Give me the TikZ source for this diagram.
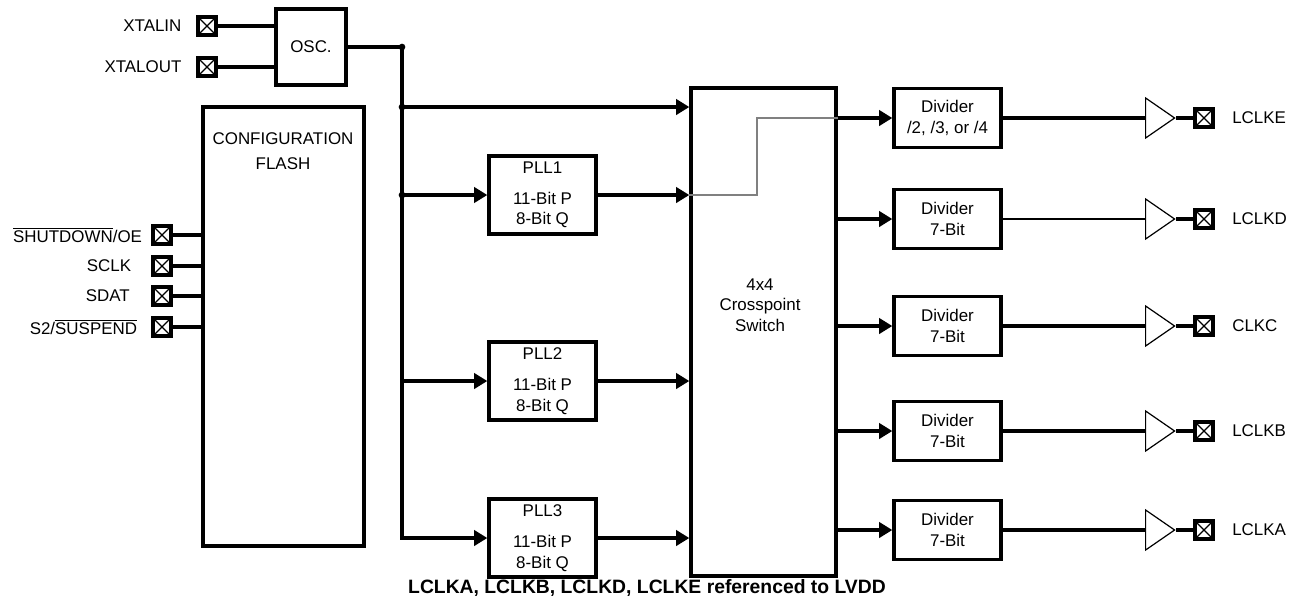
\documentclass[tikz,border=0pt]{standalone}
\usepackage{fontspec}
\setmainfont{Liberation Sans}
\usetikzlibrary{arrows.meta,positioning,shapes.geometric}

\newcommand{\ovl}[1]{$\overline{\mbox{#1}}$}

\begin{document}
\begin{tikzpicture}[x=0.75pt, y=-0.75pt,
    font=\fontsize{12.7}{15.3}\selectfont,
    wire/.style={line width=2.5pt},
    arr/.style={wire, -{Triangle[length=10pt,width=11.5pt]}},
    block/.style={draw, line width=2.5pt, inner sep=0pt, align=center},
    pll/.style={block, minimum width=80.25pt, minimum height=58.5pt},
    divbox/.style={block, minimum width=80.25pt, minimum height=44.25pt},
    pad/.style={draw, line width=2.5pt, minimum size=13.5pt, inner sep=0pt,
        path picture={\draw[line width=1pt]
            (path picture bounding box.north west) -- (path picture bounding box.south east)
            (path picture bounding box.south west) -- (path picture bounding box.north east);}},
    buf/.style={draw, line width=0.9pt, isosceles triangle, isosceles triangle stretches,
        minimum height=21.75pt, minimum width=30pt, inner sep=0pt, anchor=west},
    dot/.style={circle, fill, inner sep=0pt, minimum size=5pt},
    txt/.style={inner sep=1pt}]
    \useasboundingbox (0,0) rectangle (1298,604);

    % oscillator and crystal pins
    \node[block, minimum width=52.5pt, minimum height=57pt] (osc) at (311,47) {OSC.};
    \node[pad] (xin) at (207,26) {};
    \node[pad] (xout) at (207,67) {};
    \node[txt, left=10pt of xin] {XTALIN};
    \node[txt, left=10pt of xout] {XTALOUT};
    \draw[wire] (xin) -- (xin -| osc.west);
    \draw[wire] (xout) -- (xout -| osc.west);

    % configuration flash and control pins
    \node[block, minimum width=120.75pt, minimum height=329.25pt] (cfg) at (283.5,326.5) {};
    \node[txt, align=center] (cfgtxt) at (283,151) {CONFIGURATION\\[3pt]FLASH};
    \node[pad] (p1) at (162,235) {};
    \node[pad] (p2) at (162,266) {};
    \node[pad] (p3) at (162,296) {};
    \node[pad] (p4) at (162,327) {};
    \node[txt, left=5.8pt of p1] {\ovl{SHUTDOWN}/OE};
    \node[txt, left=14pt of p2] {SCLK};
    \node[txt, left=15pt of p3] {SDAT};
    \node[txt, left=9.5pt of p4] {S2/\ovl{SUSPEND}};
    \foreach \p in {p1,p2,p3,p4}
        \draw[wire] (\p) -- (\p -| cfg.west);

    % PLLs and crosspoint switch
    \node[block, minimum width=108.75pt, minimum height=366pt] (cross) at (763.5,332) {};
    \node[txt, align=center] (crosstxt) at (760,305) {4x4\\Crosspoint\\Switch};
    \node[pll] (pll1) at (542.5,195) {PLL1\\[8pt]11-Bit P\\8-Bit Q};
    \node[pll] (pll2) at (542.5,381) {PLL2\\[8pt]11-Bit P\\8-Bit Q};
    \node[pll] (pll3) at (542.5,538) {PLL3\\[8pt]11-Bit P\\8-Bit Q};

    \coordinate (jtop) at (402,47);
    \coordinate (jx) at (402,107);
    \coordinate (j1) at (402,195);
    \coordinate (j2) at (402,381);
    \coordinate (jbot) at (402,538);
    \draw[arr] (osc.east) -- (jtop) -- (jbot) -- (pll3.west);
    \draw[arr] (jx) -- (jx -| cross.west);
    \draw[arr] (j1) -- (pll1.west);
    \draw[arr] (j2) -- (pll2.west);
    \foreach \j in {jtop,jx,j1}
        \node[dot] at (\j) {};
    \foreach \p in {pll1,pll2,pll3}
        \draw[arr] (\p.east) -- (\p.east -| cross.west);

    % dividers, buffers and output pins
    \node[divbox] (div1) at (947.5,118) {Divider\\/2, /3, or /4};
    \node[buf] (buf1) at (1145,118) {};
    \node[pad] (o1) at (1204,118) {};
    \node[txt, right=12pt of o1] {LCLKE};
    \draw[arr] (div1.west -| cross.east) -- (div1.west);
    \draw[wire] (div1.east) -- (buf1.west);
    \draw[wire] (buf1.apex) -- (o1);
    \foreach \i/\y/\pin/\lw in {2/219/LCLKD/1.2pt, 3/326/CLKC/2.5pt, 4/431/LCLKB/2.5pt, 5/530/LCLKA/2.5pt} {
        \node[divbox] (div\i) at (947.5,\y) {Divider\\7-Bit};
        \node[buf] (buf\i) at (1145,\y) {};
        \node[pad] (o\i) at (1204,\y) {};
        \node[txt, right=12pt of o\i] {\pin};
        \draw[arr] (div\i.west -| cross.east) -- (div\i.west);
        \draw[line width=\lw] (div\i.east) -- (buf\i.west);
        \draw[wire] (buf\i.apex) -- (o\i);
    }

    % route through the switch
    \draw[black!50, line width=1.6pt] (pll1.east -| cross.west) -- ++(68,0) |- (div1.west -| cross.east);

    \node[font=\bfseries\fontsize{14.5}{17}\selectfont] (note) at (647,588)
        {LCLKA, LCLKB, LCLKD, LCLKE referenced to LVDD};
\end{tikzpicture}
\end{document}
